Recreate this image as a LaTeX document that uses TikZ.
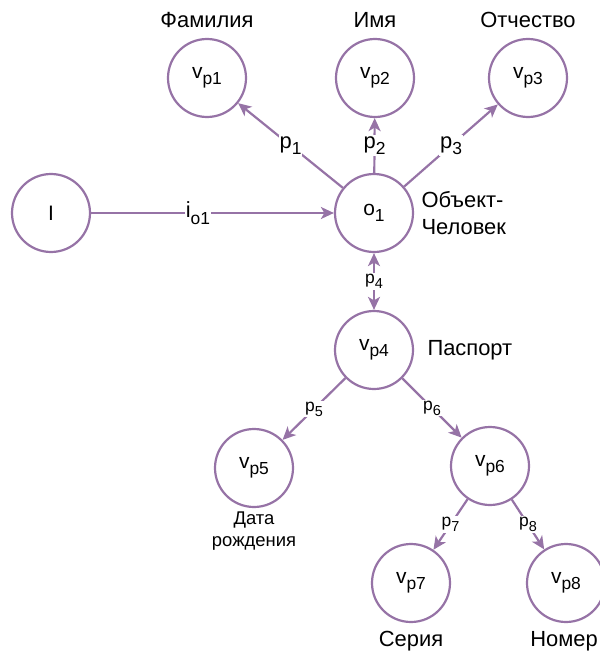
\documentclass[tikz,border=0pt]{standalone}
\usepackage{fontspec}
\setmainfont{Liberation Sans}
\usetikzlibrary{arrows.meta}
\definecolor{lilac}{HTML}{9673A6}
\newcommand{\lo}[2][17.5]{\raisebox{-0.3em}{\fontsize{#1}{#1}\selectfont #2}}

\begin{document}
\begin{tikzpicture}[x=1bp,y=-1bp,
    >={Stealth[length=13bp,width=12bp,inset=3.5bp]},
    vert/.style={circle,draw=lilac,line width=2.2bp,minimum size=78bp,inner sep=0pt,font=\fontsize{21}{21}\selectfont},
    link/.style={draw=lilac,line width=2.2bp,->},
    lbl/.style={fill=white,inner sep=1bp,font=\fontsize{22}{22}\selectfont},
    lblsm/.style={fill=white,inner sep=1bp,font=\fontsize{17.5}{17.5}\selectfont},
    txt/.style={font=\fontsize{22}{27}\selectfont},
    txtsm/.style={font=\fontsize{18.5}{22}\selectfont}]
    \useasboundingbox (0,0) rectangle (600,657);

    \node[vert] (I) at (51,213) {I};
    \node[vert] (o1) at (374,213) {o\lo{1}};
    \node[vert] (vp1) at (207,78) {v\lo{p1}};
    \node[vert] (vp2) at (375,78) {v\lo{p2}};
    \node[vert] (vp3) at (528,78) {v\lo{p3}};
    \node[vert] (vp4) at (374,350) {v\lo{p4}};
    \node[vert] (vp5) at (254,468) {v\lo{p5}};
    \node[vert] (vp6) at (490,466) {v\lo{p6}};
    \node[vert] (vp7) at (411,583) {v\lo{p7}};
    \node[vert] (vp8) at (566,583) {v\lo{p8}};

    \node[txt] (surname) at (207,20) {Фамилия};
    \node[txt] (name) at (375,20) {Имя};
    \node[txt] (patronymic) at (528,20) {Отчество};
    \node[txt,anchor=west,align=left] (person) at (418,213) {Объект-\\Человек};
    \node[txt,anchor=west] (passport) at (424,350) {Паспорт};
    \node[txtsm,align=center] (birth) at (254,531) {Дата\\рождения};
    \node[txt] (series) at (411,641) {Серия};
    \node[txt] (number) at (564,641) {Номер};

    \draw[link] (I) -- node[lbl,pos=0.44] {i\lo{o1}} (o1);
    \draw[link] (o1) -- node[lbl] {p\lo{1}} (vp1);
    \draw[link] (o1) -- node[lbl] {p\lo{2}} (vp2);
    \draw[link] (o1) -- node[lbl] {p\lo{3}} (vp3);
    \draw[link,<->] (o1) -- node[lblsm] {p\lo[14.5]{4}} (vp4);
    \draw[link] (vp4) -- node[lblsm] {p\lo[14.5]{5}} (vp5);
    \draw[link] (vp4) -- node[lblsm] {p\lo[14.5]{6}} (vp6);
    \draw[link] (vp6) -- node[lblsm] {p\lo[14.5]{7}} (vp7);
    \draw[link] (vp6) -- node[lblsm] {p\lo[14.5]{8}} (vp8);
\end{tikzpicture}
\end{document}
